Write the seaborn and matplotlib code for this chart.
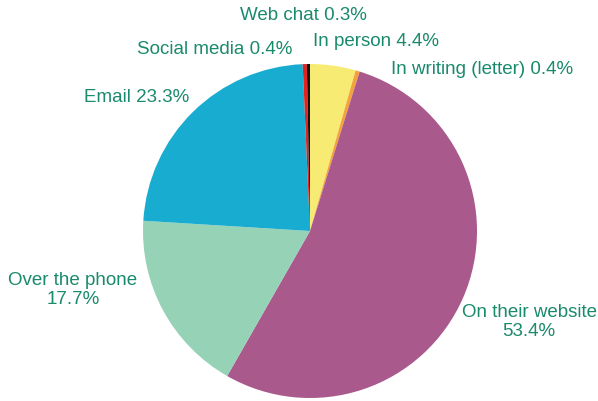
import matplotlib
matplotlib.use("Agg")
import matplotlib.pyplot as plt
import seaborn as sns

# Share of contacts by channel (percent), clockwise from 12 o'clock
channels = ["In person", "In writing (letter)", "On their website",
            "Over the phone", "Email", "Social media", "Web chat"]
shares = [4.4, 0.4, 53.4, 17.7, 23.3, 0.4, 0.3]
colors = ["#F8EB74", "#F4A23C", "#A9598B", "#96D2B5", "#18ACD0", "#E2231F", "#111111"]

sns.set_theme(style="white")
plt.rcParams["font.family"] = ["Liberation Sans", "DejaVu Sans"]

W, H = 598, 402
fig = plt.figure(figsize=(W / 100, H / 100), dpi=100)
ax = fig.add_axes([0, 0, 1, 1])

ax.pie(shares, colors=colors, startangle=90, counterclock=False,
       center=(310, H - 232), radius=167,
       wedgeprops=dict(linewidth=0), frame=True)
ax.set_xlim(0, W)
ax.set_ylim(0, H)
ax.set_aspect("equal")
ax.axis("off")

# label text and where each sits (pixel coordinates, y measured from top)
label_pos = {
    "In person": (376, 42),
    "In writing (letter)": (482, 70),
    "On their website": (529, 322),
    "Over the phone": (73, 290),
    "Email": (137, 97),
    "Social media": (215, 50),
    "Web chat": (303, 15),
}
two_line = {"On their website", "Over the phone"}
txt_color = "#1A8A6C"
for name, val in zip(channels, shares):
    x, y = label_pos[name]
    sep = "\n" if name in two_line else " "
    ax.text(x, H - y, f"{name}{sep}{val}%", ha="center", va="center",
            fontsize=13.5, color=txt_color, linespacing=1.15)

fig.savefig("out.png", dpi=100)
